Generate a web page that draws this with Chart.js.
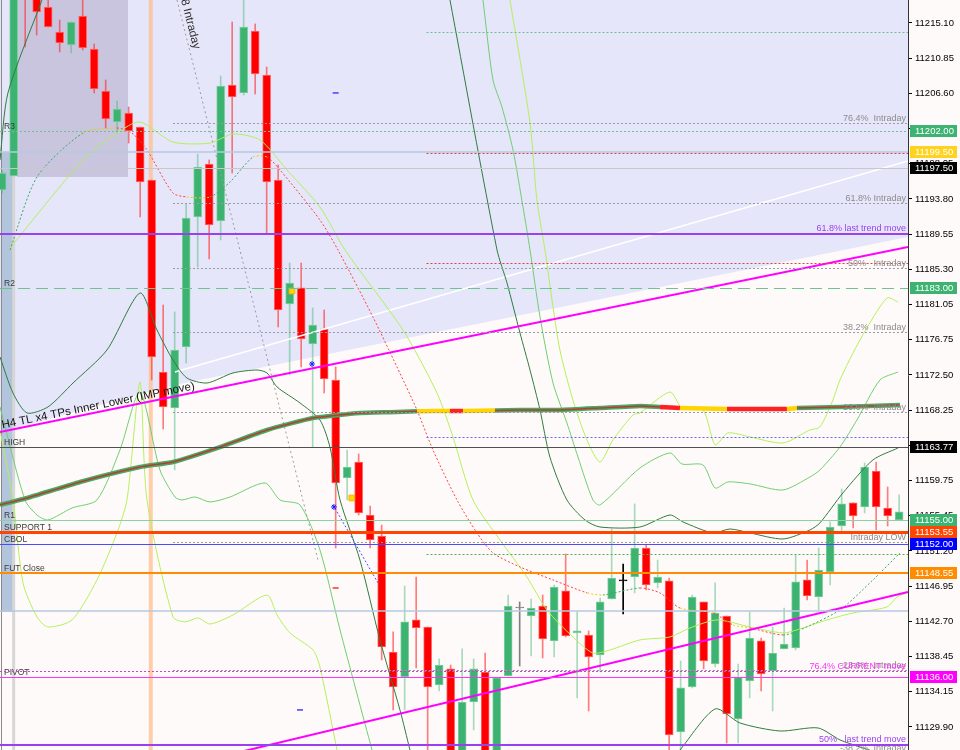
<!DOCTYPE html>
<html>
<head>
<meta charset="utf-8">
<script src="https://cdn.jsdelivr.net/npm/chart.js@4.4.0/dist/chart.umd.min.js"></script>
<style>
  html, body { margin: 0; padding: 0; background: #FFFAFA; }
  canvas { display: block; }
</style>
</head>
<body>
<canvas id="chart" width="960" height="750"></canvas>
<script>
//
// DATEN
//
// Kerzen von links nach rechts (Open / High / Low / Close)
const opens = [11194.89, 11196.58, 11220.91, 11218.49, 11217.03, 11214.01, 11212.43, 11215.94, 11211.95, 11206.87,
  11203.12, 11204.20, 11202.51, 11196.10, 11172.86, 11168.50, 11175.89, 11191.62, 11198.03, 11191.13,
  11207.59, 11206.63, 11214.13, 11208.80, 11196.10, 11181.09, 11183.03, 11176.25, 11178.06, 11171.89,
  11160.03, 11161.97, 11155.55, 11153.01, 11138.97, 11135.95, 11142.85, 11142.00, 11134.98, 11136.92,
  11125.90, 11132.92, 11136.55, 11125.90, 11136.07, 11144.30, 11143.33, 11144.54, 11140.31, 11146.36,
  11141.27, 11141.03, 11138.61, 11145.39, 11147.57, 11148.05, 11151.56, 11147.33, 11147.57, 11129.29,
  11134.74, 11145.03, 11137.52, 11143.33, 11130.87, 11135.47, 11140.31, 11136.68, 11139.34, 11139.46,
  11147.69, 11145.63, 11148.66, 11154.22, 11157.01, 11156.52, 11160.88, 11156.40, 11154.95];
const highs = [11197.20, 11220.30, 11221.50, 11219.00, 11217.88, 11215.46, 11215.22, 11217.88, 11212.56, 11208.20,
  11205.66, 11204.93, 11202.51, 11196.10, 11180.97, 11180.12, 11193.19, 11199.24, 11198.52, 11208.68,
  11215.22, 11217.88, 11214.98, 11209.77, 11197.91, 11186.05, 11186.05, 11180.61, 11180.36, 11173.47,
  11163.42, 11162.94, 11156.64, 11154.34, 11141.40, 11146.96, 11148.05, 11142.00, 11138.13, 11137.40,
  11139.34, 11138.13, 11138.85, 11135.83, 11145.87, 11145.03, 11145.39, 11145.87, 11147.08, 11150.83,
  11143.82, 11141.52, 11145.51, 11153.86, 11149.62, 11156.89, 11151.92, 11150.11, 11147.93, 11137.88,
  11145.87, 11145.03, 11147.33, 11143.33, 11137.52, 11143.82, 11140.67, 11142.00, 11144.30, 11150.71,
  11150.11, 11151.56, 11154.71, 11158.70, 11157.01, 11161.85, 11161.97, 11158.94, 11157.98];
const lows = [11194.50, 11196.58, 11212.19, 11213.64, 11214.61, 11211.59, 11211.47, 11211.83, 11206.63, 11202.39,
  11201.78, 11200.57, 11191.62, 11171.89, 11165.96, 11161.00, 11173.95, 11185.57, 11186.54, 11188.84,
  11196.94, 11206.38, 11206.50, 11189.68, 11178.31, 11172.50, 11173.47, 11163.78, 11170.32, 11151.56,
  11157.37, 11155.55, 11151.56, 11138.01, 11131.96, 11131.96, 11137.04, 11126.87, 11134.26, 11124.69,
  11124.69, 11129.54, 11124.69, 11124.69, 11136.07, 11137.28, 11138.49, 11138.25, 11138.37, 11140.79,
  11133.41, 11131.83, 11136.55, 11145.39, 11143.57, 11146.12, 11146.48, 11146.72, 11125.90, 11127.11,
  11134.62, 11136.92, 11137.16, 11127.96, 11127.96, 11133.41, 11134.26, 11131.83, 11139.34, 11139.22,
  11145.27, 11144.06, 11147.08, 11153.38, 11153.98, 11155.80, 11153.74, 11154.22, 11154.95];
const closes = [11196.94, 11219.09, 11218.24, 11216.43, 11214.61, 11212.68, 11215.22, 11212.07, 11207.11, 11203.48,
  11204.69, 11202.03, 11195.85, 11174.68, 11168.62, 11175.52, 11191.50, 11197.67, 11190.65, 11207.47,
  11206.14, 11214.61, 11208.92, 11195.85, 11180.36, 11183.63, 11176.85, 11178.55, 11172.01, 11159.43,
  11161.36, 11155.80, 11152.53, 11139.58, 11134.74, 11142.61, 11141.88, 11134.74, 11137.40, 11125.90,
  11132.92, 11136.92, 11125.90, 11135.83, 11144.54, 11144.30, 11144.30, 11140.55, 11146.84, 11140.91,
  11141.52, 11138.37, 11145.03, 11147.93, 11147.57, 11151.56, 11147.08, 11148.05, 11128.93, 11134.62,
  11145.63, 11137.88, 11143.69, 11131.47, 11135.95, 11140.67, 11136.31, 11138.85, 11139.94, 11147.45,
  11145.75, 11148.90, 11154.10, 11156.89, 11155.43, 11161.36, 11156.52, 11155.43, 11155.95];

// Preisskala rechts
const yTicks = [11215.10, 11210.85, 11206.60, 11202.35, 11198.05, 11193.80, 11189.55, 11185.30, 11181.05, 11176.75,
  11172.50, 11168.25, 11164.00, 11159.75, 11155.45, 11151.20, 11146.95, 11142.70, 11138.45, 11134.15, 11129.90];
const Y_MIN = 11127.11, Y_MAX = 11217.88;
const X_MIN = -0.19, X_MAX = 78.77;

// Levels mit Beschriftung links
const levelNames = ['R3', 'R2', 'HIGH', 'R1', 'SUPPORT 1', 'CBOL', 'FUT Close', 'PIVOT'];
const levelValues = [11202.00, 11183.00, 11163.77, 11155.00, 11153.55, 11152.00, 11148.55, 11136.00];

// Fibo Intraday (graue Punktlinien)
const fibNames = ['76.4%  Intraday', '61.8% Intraday', '50%   Intraday', '38.2%  Intraday', '23.6%  Intraday',
  'Intraday LOW', '-23.6%  Intraday', '-38.2%  Intraday'];
const fibValues = [11202.99, 11193.31, 11185.45, 11177.70, 11168.02, 11152.29, 11136.80, 11126.75];
const fibStart = 14.85;

// Trend move Levels (lila) und current move (magenta)
const trendNames = ['61.8% last trend move', '50%   last trend move'];
const trendValues = [11189.56, 11127.72];
const currentName = '76.4% CURRENT move';
const currentValue = 11136.68;

// weitere Linien
const steelLines = [11199.48, 11143.94];
const greyLine = 11197.55;
const shortLineValues = [11214.01, 11199.36, 11186.05, 11165.00, 11150.84];
const shortLineColors = ['#6fbf8a', '#e04040', '#e04040', '#6a6af0', '#4caf50'];
const shortStart = 36.9;

// Preisschilder auf der Achse
const tagValues = [11202.00, 11199.50, 11197.50, 11183.00, 11163.77, 11155.00, 11153.55, 11152.00, 11148.55, 11136.00];
const tagColors = ['#3cb371', '#ffd21f', '#000000', '#3cb371', '#000000', '#3cb371', '#ff4500', '#0000ff', '#ff8c00', '#ff00ff'];

// Hintergrund-Flächen
const shadeX = [-0.19, 15.03, 78.77];
const shadeY = [11165.60, 11171.29, 11189.20];
const boxX = [1.29, 10.94];
const boxBottom = 11196.46;
const columnX = [-0.02, 0.94];
const columnY = [11143.82, 11199.48];
const markedBar = 12.92;
const sepBar = 1.0;

// Trendlinien
const tl1 = [[-0.19, 11165.60], [78.77, 11187.99]];
const tl2 = [[20.68, 11126.87], [78.77, 11146.24]];
const tl1Text = 'H4 TL x4 TPs Inner Lower (IMP move)';
const whiteLine = [[15.03, 11172.86], [78.77, 11198.40]];
const intradayLine = [[15.2, 11217.88], [27.46, 11150.11]];
const intradayText = '8 Intraday';
const blueDotLine = [[28.77, 11156.77], [32.68, 11147.33]];

// Gleitende Durchschnitte / Bänder
const maThick = [[-0.19, 11156.77], [2.16, 11157.61], [6.77, 11159.55], [11.98, 11161.36], [14.85, 11161.97],
  [18.94, 11163.78], [23.03, 11165.84], [27.03, 11167.29], [31.11, 11167.90], [33.7, 11168.00], [36.07, 11168.10],
  [37.46, 11168.14], [38.94, 11168.14], [40.07, 11168.14], [42.85, 11168.20], [45.0, 11168.26], [48.5, 11168.26],
  [52.0, 11168.50], [55.46, 11168.75], [57.2, 11168.63], [58.94, 11168.50], [63.03, 11168.38], [65.72, 11168.38],
  [68.24, 11168.38], [69.11, 11168.50], [72.85, 11168.63], [78.07, 11168.87]];
const dgTopLeft = [[-0.19, 11198.52], [0.5, 11206.63], [3.46, 11217.88]];
const dgUpper = [[38.94, 11217.88], [43.03, 11187.63], [43.9, 11183.63], [45.03, 11177.58], [45.9, 11173.10],
  [46.77, 11168.26], [47.63, 11162.57], [49.11, 11157.37], [50.68, 11154.95], [51.98, 11154.10], [55.46, 11154.10],
  [58.07, 11155.55], [59.2, 11154.71], [61.81, 11153.38], [63.29, 11153.86], [65.03, 11153.38], [67.9, 11152.65],
  [70.24, 11153.74], [71.11, 11154.59], [73.11, 11158.22], [75.72, 11162.21], [77.9, 11163.66]];
const dgLower = [[-0.19, 11174.68], [0.94, 11170.32], [2.16, 11167.90], [3.98, 11168.63], [6.16, 11171.53],
  [9.11, 11175.52], [11.98, 11182.42], [13.46, 11177.94], [14.85, 11174.31], [16.07, 11172.13], [17.81, 11171.53],
  [20.07, 11172.74], [22.16, 11173.10], [23.03, 11172.74], [23.9, 11171.05], [25.9, 11169.11], [27.63, 11167.05],
  [28.5, 11163.78], [29.38, 11157.37], [31.11, 11150.11], [32.85, 11140.43], [34.59, 11131.96], [35.46, 11127.11]];
const dgLowerRight = [[58.94, 11127.11], [62.0, 11132.08], [64.16, 11130.38], [67.64, 11129.41], [70.94, 11129.78],
  [72.85, 11128.33], [74.59, 11127.48], [75.9, 11126.87]];
const lgUpper = [[41.81, 11217.88], [42.68, 11208.20], [43.46, 11204.93], [44.42, 11199.73], [45.29, 11192.83],
  [45.9, 11187.63], [46.77, 11179.52], [47.9, 11171.53], [49.11, 11166.69], [50.07, 11162.57], [51.37, 11157.37],
  [52.0, 11156.77], [55.46, 11161.24], [58.07, 11163.06], [59.11, 11161.73], [60.94, 11161.61], [62.0, 11158.82],
  [63.11, 11159.55], [65.03, 11159.31], [67.9, 11158.58], [70.24, 11160.15], [71.11, 11161.00], [72.85, 11163.78],
  [74.33, 11167.05], [76.33, 11171.89], [77.9, 11172.86]];
const lgLower = [[-0.19, 11168.63], [1.98, 11157.37], [3.03, 11155.55], [3.98, 11154.95], [6.07, 11156.40],
  [8.24, 11157.37], [10.24, 11163.42], [11.98, 11170.44], [13.72, 11161.00], [15.03, 11157.73], [15.63, 11157.37],
  [16.77, 11157.73], [18.07, 11157.13], [19.81, 11157.73], [22.85, 11159.43], [24.16, 11157.37], [25.9, 11156.77],
  [27.63, 11151.32], [29.38, 11141.64], [32.16, 11127.11]];
const ygUpper = [[44.16, 11217.88], [45.9, 11203.00], [46.5, 11193.68], [47.2, 11187.63], [47.9, 11180.73],
  [48.5, 11175.52], [49.63, 11169.47], [50.85, 11164.63], [51.98, 11161.97], [53.11, 11164.63], [54.85, 11167.66],
  [55.46, 11167.90], [58.07, 11170.44], [59.11, 11168.50], [60.94, 11168.26], [62.0, 11164.03], [63.11, 11165.48],
  [65.03, 11165.00], [67.9, 11164.27], [70.24, 11165.84], [71.11, 11166.21], [72.24, 11169.47], [72.85, 11171.89],
  [74.59, 11176.73], [76.94, 11181.82], [77.9, 11181.33]];
const ygLower = [[-0.19, 11165.84], [0.94, 11157.37], [1.81, 11147.33], [3.03, 11143.21], [3.98, 11142.00],
  [6.07, 11142.85], [8.24, 11147.69], [9.98, 11153.38], [10.85, 11157.37], [11.98, 11171.65], [12.59, 11157.37],
  [14.85, 11143.21], [15.9, 11142.61], [17.03, 11143.09], [18.07, 11142.36], [20.07, 11143.45], [23.03, 11145.87],
  [23.9, 11143.45], [25.03, 11141.27], [27.03, 11139.22], [27.63, 11137.16], [29.12, 11127.11]];
const ygMid = [[0.68, 11187.87], [7.03, 11198.52], [9.98, 11201.78], [11.98, 11203.12], [14.85, 11200.69],
  [18.07, 11200.57], [20.07, 11201.66], [22.42, 11200.94], [24.77, 11197.31], [27.63, 11192.83], [29.81, 11187.63],
  [34.85, 11177.94], [37.81, 11170.32], [39.2, 11165.00], [40.94, 11157.37], [43.29, 11152.53], [45.63, 11148.05],
  [47.37, 11144.06], [49.63, 11140.79], [51.37, 11138.85], [52.85, 11139.22], [55.46, 11140.43], [58.07, 11140.79],
  [59.81, 11141.88], [62.16, 11142.85], [65.03, 11142.00], [67.9, 11141.27], [69.11, 11141.64], [71.72, 11142.85],
  [73.98, 11143.69], [76.94, 11144.42], [77.81, 11145.63], [78.68, 11146.12]];
const dotMA = [[0.68, 11187.63], [3.03, 11196.46], [7.03, 11201.78], [9.98, 11202.39], [11.29, 11201.78],
  [12.59, 11199.73], [14.85, 11194.52], [16.07, 11194.04], [18.07, 11194.04], [19.81, 11195.85], [21.81, 11198.88],
  [23.03, 11198.88], [24.16, 11197.31], [27.63, 11191.26], [29.2, 11187.63], [32.24, 11179.52], [34.33, 11173.47],
  [36.07, 11168.26], [37.46, 11163.42], [39.55, 11157.37], [41.29, 11153.38], [42.68, 11150.96], [45.03, 11149.26],
  [47.9, 11147.69], [50.89, 11146.12], [52.24, 11145.87], [55.46, 11146.72], [57.2, 11146.12], [58.94, 11144.30],
  [61.81, 11143.69], [63.57, 11142.24], [65.03, 11141.88], [67.9, 11141.03], [69.37, 11141.64], [72.85, 11144.06],
  [75.72, 11147.69], [78.07, 11150.96]];

// kleine Markierungen
const yellowMarks = [[25.2, 11182.66], [30.4, 11157.61]];
const blueStars = [[26.94, 11173.83], [28.85, 11156.52]];
const blueDashes = [[29.0, 11206.63], [25.9, 11131.96]];
const redDashes = [[29.0, 11146.72]];


//
// HILFSFUNKTIONEN
//
const FONT = '"Liberation Sans", Arial, sans-serif';

function pts(arr) {
  return arr.map(p => ({ x: p[0], y: p[1] }));
}

function curve(arr, color, width, dash, order) {
  return {
    type: 'line',
    data: pts(arr),
    borderColor: color,
    borderWidth: width,
    borderDash: dash || [],
    pointRadius: 0,
    tension: 0.25,
    fill: false,
    order: order || 5
  };
}

function candleColor(i) {
  if (closes[i] > opens[i]) return '#3cb371';
  if (closes[i] < opens[i]) return '#ff0000';
  return i === 54 ? '#000000' : '#808080';
}

function wickColor(i) {
  if (closes[i] > opens[i]) return 'rgba(60,179,113,0.45)';
  if (closes[i] < opens[i]) return 'rgba(255,40,40,0.6)';
  return i === 54 ? '#000000' : '#808080';
}

function bodyBorder(i) {
  if (closes[i] > opens[i]) return '#7fcfa0';
  if (closes[i] < opens[i]) return '#ff6a6a';
  return candleColor(i);
}

// Farben der dicken MA (rot / gelb Abschnitte)
function maSegColor(c) {
  const xm = (c.p0.parsed.x + c.p1.parsed.x) / 2;
  if ((xm > 36 && xm < 38.9) || (xm > 40.1 && xm < 42.9) || (xm > 58.9 && xm < 63) || (xm > 68.2 && xm < 69.2)) return '#ffd400';
  if ((xm > 38.9 && xm < 40.1) || (xm > 57.2 && xm < 58.9) || (xm > 63 && xm < 68.2)) return '#ff2020';
  return undefined;
}

// gepunktete MA: grün steigend, rot fallend, gelb flach
function dotSegColor(c) {
  const d = (c.p1.parsed.y - c.p0.parsed.y) / (c.p1.parsed.x - c.p0.parsed.x);
  if (d > 0.25) return '#3aa860';
  if (d < -0.25) return '#ff4040';
  return '#e8d000';
}

function hline(ctx, y, x0, x1, color, width, dash) {
  ctx.save();
  ctx.strokeStyle = color;
  ctx.lineWidth = width;
  ctx.setLineDash(dash || []);
  const yy = width % 2 === 1 ? Math.round(y) + 0.5 : Math.round(y);
  ctx.beginPath();
  ctx.moveTo(x0, yy);
  ctx.lineTo(x1, yy);
  ctx.stroke();
  ctx.restore();
}


//
// PLUGIN: Flächen, Levels, Texte, Preisschilder
//
const overlay = {
  id: 'overlay',

  beforeDatasetsDraw(chart) {
    const ctx = chart.ctx;
    const a = chart.chartArea;
    const xs = chart.scales.x, ys = chart.scales.y;
    ctx.save();
    ctx.beginPath();
    ctx.rect(a.left, a.top, a.right - a.left, a.bottom - a.top);
    ctx.clip();

    // Lavendel-Fläche oben
    ctx.fillStyle = '#e6e6fa';
    ctx.beginPath();
    ctx.moveTo(xs.getPixelForValue(shadeX[0]), a.top);
    for (let i = 0; i < shadeX.length; i++) {
      ctx.lineTo(xs.getPixelForValue(shadeX[i]), ys.getPixelForValue(shadeY[i]));
    }
    ctx.lineTo(xs.getPixelForValue(shadeX[shadeX.length - 1]), a.top);
    ctx.closePath();
    ctx.fill();

    // dunkle Box links oben
    const bx0 = xs.getPixelForValue(boxX[0]), bx1 = xs.getPixelForValue(boxX[1]);
    ctx.fillStyle = '#c9c5df';
    ctx.fillRect(bx0, a.top, bx1 - bx0, ys.getPixelForValue(boxBottom) - a.top);

    // blaue Spalte links
    const cx0 = xs.getPixelForValue(columnX[0]), cx1 = xs.getPixelForValue(columnX[1]);
    const cy0 = ys.getPixelForValue(columnY[1]), cy1 = ys.getPixelForValue(columnY[0]);
    ctx.fillStyle = '#b3c5dc';
    ctx.fillRect(cx0, cy0, cx1 - cx0, cy1 - cy0);

    // senkrechte Markierungen
    ctx.fillStyle = 'rgba(255,190,140,0.75)';
    ctx.fillRect(xs.getPixelForValue(markedBar) - 2, a.top, 4, a.bottom - a.top);
    ctx.fillStyle = '#d6d6d6';
    ctx.fillRect(xs.getPixelForValue(sepBar) - 1.5, a.top, 3, a.bottom - a.top);
    ctx.fillStyle = '#8a8a8a';
    ctx.fillRect(1, a.top, 1, a.bottom - a.top);

    ctx.restore();
  },

  afterDatasetsDraw(chart) {
    const ctx = chart.ctx;
    const a = chart.chartArea;
    const xs = chart.scales.x, ys = chart.scales.y;
    ctx.save();
    ctx.beginPath();
    ctx.rect(a.left, a.top, a.right - a.left, a.bottom - a.top);
    ctx.clip();

    // durchgehende Hilfslinien
    steelLines.forEach(v => hline(ctx, ys.getPixelForValue(v), a.left, a.right, '#b4c8e0', 1.5));
    hline(ctx, ys.getPixelForValue(greyLine), a.left, a.right, '#c8c8c8', 1);

    // kurze Punktlinien ab Kerze 37
    const sx = xs.getPixelForValue(shortStart);
    shortLineValues.forEach((v, i) => hline(ctx, ys.getPixelForValue(v), sx, a.right, shortLineColors[i], 1, [2, 2]));

    // Fibo Intraday
    const fx = xs.getPixelForValue(fibStart);
    ctx.font = '9px ' + FONT;
    ctx.textAlign = 'right';
    ctx.textBaseline = 'alphabetic';
    fibValues.forEach((v, i) => {
      const y = ys.getPixelForValue(v);
      hline(ctx, y, fx, a.right, '#9a9aa6', 1, [2, 2]);
      ctx.fillStyle = '#8c8c8c';
      ctx.fillText(fibNames[i], a.right - 2, Math.round(y) - 2);
    });

    // Levels links
    const styles = {
      'R3': ['#6fbf9a', 1, [2, 2]],
      'R2': ['#6cc58e', 1, [12, 6]],
      'HIGH': ['#505050', 1, []],
      'R1': ['#8fd19e', 1, []],
      'SUPPORT 1': ['#ff4500', 3, []],
      'CBOL': ['#4a4aff', 1, []],
      'FUT Close': ['#ff8c00', 2, []],
      'PIVOT': ['#ff33ff', 1, []]
    };
    levelValues.forEach((v, i) => {
      const st = styles[levelNames[i]];
      hline(ctx, ys.getPixelForValue(v), a.left, a.right, st[0], st[1], st[2]);
    });
    ctx.font = '8.5px ' + FONT;
    ctx.textAlign = 'left';
    ctx.fillStyle = '#3a3a3a';
    levelValues.forEach((v, i) => {
      ctx.fillText(levelNames[i], 4, Math.round(ys.getPixelForValue(v)) - 2);
    });

    // current move (magenta gepunktet)
    const cy = ys.getPixelForValue(currentValue);
    hline(ctx, cy, a.left, a.right, '#cc44cc', 1, [2, 2]);
    ctx.font = '9px ' + FONT;
    ctx.textAlign = 'right';
    ctx.fillStyle = '#ff33ff';
    ctx.fillText(currentName, a.right - 2, Math.round(cy) - 2);

    // last trend move (lila)
    trendValues.forEach((v, i) => {
      const y = ys.getPixelForValue(v);
      hline(ctx, y, a.left, a.right, '#9a40f0', 2);
      ctx.fillStyle = '#9a40f0';
      ctx.fillText(trendNames[i], a.right - 2, Math.round(y) - 3);
    });

    // Text entlang der Trendlinie
    const p0x = xs.getPixelForValue(tl1[0][0]), p0y = ys.getPixelForValue(tl1[0][1]);
    const p1x = xs.getPixelForValue(tl1[1][0]), p1y = ys.getPixelForValue(tl1[1][1]);
    const ang = Math.atan2(p1y - p0y, p1x - p0x);
    ctx.save();
    ctx.translate(p0x + 3, p0y + (p1y - p0y) / (p1x - p0x) * 3);
    ctx.rotate(ang);
    ctx.font = '11.5px ' + FONT;
    ctx.textAlign = 'left';
    ctx.fillStyle = '#111';
    ctx.fillText(tl1Text, 0, -3);
    ctx.restore();

    // Text entlang der steilen Intraday-Linie
    const q0x = xs.getPixelForValue(intradayLine[0][0]), q0y = ys.getPixelForValue(intradayLine[0][1]);
    const q1x = xs.getPixelForValue(intradayLine[1][0]), q1y = ys.getPixelForValue(intradayLine[1][1]);
    ctx.save();
    ctx.translate(q0x, q0y);
    ctx.rotate(Math.atan2(q1y - q0y, q1x - q0x));
    ctx.font = '11.5px ' + FONT;
    ctx.textAlign = 'left';
    ctx.fillStyle = '#333';
    ctx.fillText(intradayText, 1, -4);
    ctx.restore();

    ctx.restore();
  },

  afterDraw(chart) {
    const ctx = chart.ctx;
    const a = chart.chartArea;
    const ys = chart.scales.y;
    ctx.save();
    ctx.font = '9.5px ' + FONT;
    ctx.textAlign = 'left';
    ctx.textBaseline = 'middle';
    tagValues.forEach((v, i) => {
      const y = Math.round(ys.getPixelForValue(v));
      ctx.fillStyle = tagColors[i];
      ctx.fillRect(a.right + 2, y - 6, 47, 12);
      ctx.fillStyle = '#ffffff';
      ctx.fillText(v.toFixed(2), a.right + 7, y + 0.5);
    });
    ctx.restore();
  }
};


//
// CHART
//
const idx = opens.map((_, i) => i);

const datasets = [
  // Dochte
  {
    type: 'bar',
    data: idx.map(i => ({ x: i, y: [lows[i], highs[i]] })),
    backgroundColor: idx.map(wickColor),
    barThickness: 1,
    grouped: false,
    order: 21
  },
  // Körper
  {
    type: 'bar',
    data: idx.map(i => ({ x: i, y: [opens[i], closes[i]] })),
    backgroundColor: idx.map(candleColor),
    borderColor: idx.map(bodyBorder),
    borderWidth: 1,
    borderSkipped: false,
    barThickness: 8,
    minBarLength: 1,
    grouped: false,
    order: 20
  },
  curve(whiteLine, '#ffffff', 1.5, [], 15),
  curve(intradayLine, '#9a9a9a', 1, [2, 3], 6),
  curve(blueDotLine, '#4a4aff', 1, [2, 2], 6),
  curve(dgTopLeft, '#2e7d3e', 1, [], 6),
  curve(dgUpper, '#2e7d3e', 1, [], 6),
  curve(dgLower, '#2e7d3e', 1, [], 6),
  curve(dgLowerRight, '#2e7d3e', 1, [], 6),
  curve(lgUpper, '#6fcf6f', 1, [], 6),
  curve(lgLower, '#6fcf6f', 1, [], 6),
  curve(ygUpper, '#b4f05a', 1, [], 6),
  curve(ygLower, '#b4f05a', 1, [], 6),
  curve(ygMid, '#b4f05a', 1, [], 6),
  Object.assign(curve(dotMA, '#ff4040', 1, [2, 2], 5), { segment: { borderColor: dotSegColor } }),
  Object.assign(curve(maThick, '#4aa86a', 4.5, [], 4), { tension: 0.15, segment: { borderColor: maSegColor } }),
  Object.assign(curve(maThick, '#b5402a', 1.5, [], 3), { tension: 0.15, segment: { borderColor: maSegColor } }),
  Object.assign(curve(tl1, '#ff00ff', 2, [], 2), { tension: 0 }),
  Object.assign(curve(tl2, '#ff00ff', 2, [], 2), { tension: 0 }),
  {
    type: 'scatter',
    data: pts(yellowMarks),
    pointStyle: 'rect',
    pointRadius: 4,
    backgroundColor: '#ffd700',
    borderColor: '#ffb000',
    borderWidth: 1,
    order: 1
  },
  {
    type: 'scatter',
    data: pts(blueStars),
    pointStyle: 'star',
    pointRadius: 3,
    borderColor: '#2020ff',
    borderWidth: 1,
    order: 1
  },
  {
    type: 'scatter',
    data: pts(blueDashes),
    pointStyle: 'line',
    pointRadius: 3,
    borderColor: '#4040ff',
    borderWidth: 1.5,
    order: 1
  },
  {
    type: 'scatter',
    data: pts(redDashes),
    pointStyle: 'line',
    pointRadius: 3,
    borderColor: '#ff3030',
    borderWidth: 1.5,
    order: 1
  }
];

new Chart(document.getElementById('chart'), {
  type: 'bar',
  data: { datasets: datasets },
  options: {
    responsive: false,
    animation: false,
    events: [],
    layout: { padding: 0, autoPadding: false },
    plugins: {
      legend: { display: false },
      tooltip: { enabled: false }
    },
    scales: {
      x: {
        type: 'linear',
        min: X_MIN,
        max: X_MAX,
        offset: false,
        display: false
      },
      y: {
        type: 'linear',
        position: 'right',
        min: Y_MIN,
        max: Y_MAX,
        afterBuildTicks: scale => {
          scale.ticks = yTicks.map(v => ({ value: v }));
        },
        afterFit: scale => {
          scale.width = 52;
          scale.paddingTop = 0;
          scale.paddingBottom = 0;
        },
        ticks: {
          autoSkip: false,
          padding: 3,
          color: '#000',
          font: { family: FONT, size: 9.5 },
          callback: v => Number(v).toFixed(2)
        },
        grid: {
          drawOnChartArea: false,
          drawTicks: true,
          tickLength: 4,
          color: '#000'
        },
        border: { display: true, color: '#333', width: 1 }
      }
    }
  },
  plugins: [overlay]
});
</script>
</body>
</html>
